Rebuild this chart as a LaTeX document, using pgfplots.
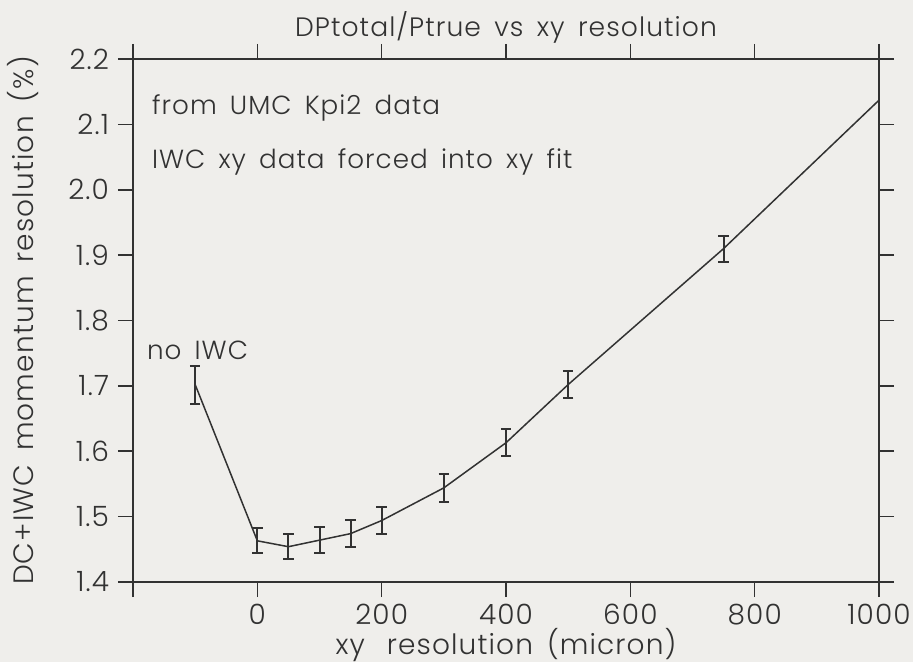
\documentclass[border=0pt]{standalone}
\usepackage{fontspec}
\setmainfont{Poppins}[UprightFont=* Light, WordSpace=1.6, LetterSpace=4]
\usepackage{pgfplots}
\pgfplotsset{compat=1.18}
\definecolor{bg}{RGB}{239,238,235}
\definecolor{ink}{RGB}{50,50,50}
\begin{document}
\begin{tikzpicture}
\fill[bg] (-66.5pt,-40pt) rectangle (390pt,291pt);
\begin{axis}[
  at={(0,0)}, anchor=south west,
  scale only axis, width=373pt, height=261.5pt,
  xmin=-200, xmax=1000, ymin=1.4, ymax=2.2,
  xtick={-200,0,200,400,600,800,1000},
  xticklabels={,0,200,400,600,800,1000},
  ytick={1.4,1.5,1.6,1.7,1.8,1.9,2.0,2.1,2.2},
  yticklabel style={xshift=-1pt, /pgf/number format/.cd, fixed, fixed zerofill, precision=1, /tikz/.cd},
  /pgf/number format/assume math mode=true,
  tick align=outside, major tick length=7.5pt,
  tick style={ink, line width=0.8pt},
  axis line style={ink, line width=0.9pt},
  ticklabel style={font=\fontsize{14}{16}\selectfont, text=ink},
  xticklabel style={yshift=0pt},
  xtick pos=both, ytick pos=both,
  xlabel={xy\hspace{4pt} resolution (micron)},
  ylabel={DC+IWC momentum resolution (\%)},
  label style={font=\fontsize{14}{16}\selectfont, text=ink},
  xlabel style={yshift=5pt},
  ylabel style={yshift=8pt},
  clip=false,
]
\addplot[ink, line width=0.75pt, mark=none] coordinates {
  (-100,1.702) (0,1.463) (50,1.454) (100,1.464) (150,1.474) (200,1.494)
  (300,1.544) (400,1.613) (500,1.702) (750,1.910) (1000,2.137)
};
\addplot[draw=none, mark=none,
  error bars/.cd, y dir=both, y explicit,
  error bar style={draw=ink, line width=1pt},
  error mark options={draw=ink, rotate=90, mark size=2.6pt, line width=1pt}]
  table[x=x, y=y, y error=e] {
  x y e
  -100 1.702 0.029
  0 1.463 0.019
  50 1.454 0.019
  100 1.464 0.020
  150 1.474 0.021
  200 1.494 0.021
  300 1.544 0.021
  400 1.613 0.021
  500 1.702 0.021
  750 1.910 0.020
};
\node[anchor=base, font=\fontsize{13.3}{15}\selectfont, text=ink, inner sep=0pt] at (rel axis cs:0.5,1) [yshift=11pt] {DPtotal/Ptrue vs xy resolution};
\node[anchor=west, font=\fontsize{13.1}{15}\selectfont, text=ink, inner sep=0pt] at (axis cs:-170,2.125) {from UMC Kpi2 data};
\node[anchor=west, font=\fontsize{13.1}{15}\selectfont, text=ink, inner sep=0pt] at (axis cs:-170,2.042) {IWC xy data forced into xy fit};
\node[anchor=west, font=\fontsize{13.1}{15}\selectfont, text=ink, inner sep=0pt] at (axis cs:-178,1.755) {no IWC};
\end{axis}
\pgfresetboundingbox
\path (-66.5pt,-40pt) rectangle (390pt,291pt);
\end{tikzpicture}
\end{document}
